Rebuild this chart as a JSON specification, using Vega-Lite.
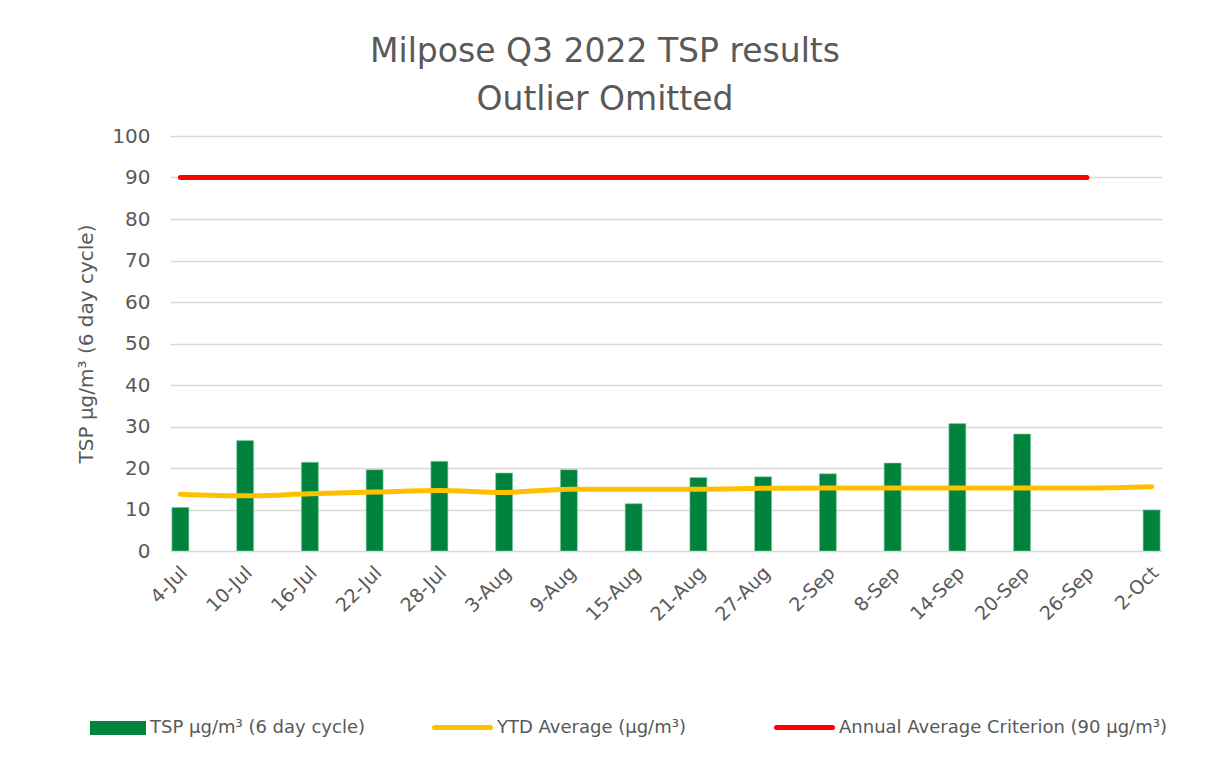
{
  "$schema": "https://vega.github.io/schema/vega-lite/v6.json",
  "width": 992,
  "height": 415,
  "autosize": {"type": "none"},
  "padding": {"left": 170, "top": 136, "right": 43, "bottom": 206},
  "background": "white",
  "title": {
    "text": ["Milpose Q3 2022 TSP results", "Outlier Omitted"],
    "fontSize": 33,
    "font": "DejaVu Sans",
    "fontWeight": "normal",
    "color": "#595959",
    "lineHeight": 48,
    "anchor": "middle",
    "dx": -61,
    "offset": 9
  },
  "config": {
    "view": {"stroke": null},
    "font": "DejaVu Sans",
    "axis": {"labelColor": "#595959", "titleColor": "#595959", "labelFont": "DejaVu Sans", "titleFont": "DejaVu Sans", "titleFontWeight": "normal"},
    "legend": {"labelColor": "#595959", "labelFont": "DejaVu Sans", "labelFontSize": 18, "labelOffset": 4, "labelLimit": 500}
  },
  "data": {
    "values": [
      {"date": "2022-07-04T12:00:00Z", "tsp": 10.5, "ytd": 13.7, "crit": 90},
      {"date": "2022-07-10T12:00:00Z", "tsp": 26.6, "ytd": 13.3, "crit": 90},
      {"date": "2022-07-16T12:00:00Z", "tsp": 21.4, "ytd": 13.8, "crit": 90},
      {"date": "2022-07-22T12:00:00Z", "tsp": 19.6, "ytd": 14.2, "crit": 90},
      {"date": "2022-07-28T12:00:00Z", "tsp": 21.6, "ytd": 14.6, "crit": 90},
      {"date": "2022-08-03T12:00:00Z", "tsp": 18.8, "ytd": 14.1, "crit": 90},
      {"date": "2022-08-09T12:00:00Z", "tsp": 19.6, "ytd": 14.9, "crit": 90},
      {"date": "2022-08-15T12:00:00Z", "tsp": 11.4, "ytd": 14.9, "crit": 90},
      {"date": "2022-08-21T12:00:00Z", "tsp": 17.7, "ytd": 14.9, "crit": 90},
      {"date": "2022-08-27T12:00:00Z", "tsp": 17.9, "ytd": 15.1, "crit": 90},
      {"date": "2022-09-02T12:00:00Z", "tsp": 18.6, "ytd": 15.2, "crit": 90},
      {"date": "2022-09-08T12:00:00Z", "tsp": 21.2, "ytd": 15.2, "crit": 90},
      {"date": "2022-09-14T12:00:00Z", "tsp": 30.7, "ytd": 15.2, "crit": 90},
      {"date": "2022-09-20T12:00:00Z", "tsp": 28.2, "ytd": 15.2, "crit": 90},
      {"date": "2022-09-26T12:00:00Z", "tsp": null, "ytd": 15.2, "crit": 90},
      {"date": "2022-10-02T12:00:00Z", "tsp": 9.9, "ytd": 15.5, "crit": null}
    ]
  },
  "encoding": {
    "x": {
      "field": "date",
      "type": "temporal",
      "scale": {
        "type": "utc",
        "domain": [
          {"year": 2022, "month": 7, "date": 4, "utc": true},
          {"year": 2022, "month": 10, "date": 3, "utc": true}
        ]
      },
      "axis": {
        "title": null,
        "labelExpr": "utcFormat(datum.value, '%-d-%b')",
        "labelAngle": -45,
        "labelAlign": "right",
        "labelBaseline": "top",
        "labelFontSize": 19,
        "labelPadding": 12,
        "labelOffset": -3,
        "ticks": false,
        "domain": false,
        "grid": false,
        "labelOverlap": false,
        "labelBound": false,
        "labelFlush": false,
        "values": [
          {"year": 2022, "month": 7, "date": 4, "hours": 12, "utc": true},
          {"year": 2022, "month": 7, "date": 10, "hours": 12, "utc": true},
          {"year": 2022, "month": 7, "date": 16, "hours": 12, "utc": true},
          {"year": 2022, "month": 7, "date": 22, "hours": 12, "utc": true},
          {"year": 2022, "month": 7, "date": 28, "hours": 12, "utc": true},
          {"year": 2022, "month": 8, "date": 3, "hours": 12, "utc": true},
          {"year": 2022, "month": 8, "date": 9, "hours": 12, "utc": true},
          {"year": 2022, "month": 8, "date": 15, "hours": 12, "utc": true},
          {"year": 2022, "month": 8, "date": 21, "hours": 12, "utc": true},
          {"year": 2022, "month": 8, "date": 27, "hours": 12, "utc": true},
          {"year": 2022, "month": 9, "date": 2, "hours": 12, "utc": true},
          {"year": 2022, "month": 9, "date": 8, "hours": 12, "utc": true},
          {"year": 2022, "month": 9, "date": 14, "hours": 12, "utc": true},
          {"year": 2022, "month": 9, "date": 20, "hours": 12, "utc": true},
          {"year": 2022, "month": 9, "date": 26, "hours": 12, "utc": true},
          {"year": 2022, "month": 10, "date": 2, "hours": 12, "utc": true}
        ]
      }
    }
  },
  "layer": [
    {
      "mark": {"type": "bar", "size": 17, "clip": true, "stroke": "#8CCFA8", "strokeWidth": 0.6},
      "encoding": {
        "y": {
          "field": "tsp",
          "type": "quantitative",
          "scale": {"domain": [0, 100], "nice": false},
          "axis": {
            "title": "TSP µg/m³ (6 day cycle)",
            "titleFontSize": 20,
            "titlePadding": 15,
            "labelFontSize": 20,
            "labelPadding": 20,
            "values": [0, 10, 20, 30, 40, 50, 60, 70, 80, 90, 100],
            "ticks": false,
            "domain": false,
            "grid": true,
            "gridColor": "#D9D9D9",
            "gridWidth": 1.5
          }
        },
        "fill": {
          "datum": "TSP µg/m³ (6 day cycle)",
          "scale": {"range": ["#00843D"]},
          "legend": {
            "title": null,
            "orient": "none",
            "legendX": -80,
            "legendY": 564,
            "symbolType": "M-1,-0.25H1V0.25H-1Z",
            "symbolSize": 3136,
            "symbolStrokeWidth": 0
          }
        }
      }
    },
    {
      "mark": {"type": "line", "strokeWidth": 5, "strokeCap": "round", "interpolate": "monotone"},
      "encoding": {
        "y": {"field": "ytd", "type": "quantitative"},
        "stroke": {
          "datum": "YTD  Average (µg/m³)",
          "scale": {"range": ["#FFC000"]},
          "legend": {
            "title": null,
            "orient": "none",
            "legendX": 262,
            "legendY": 561,
            "symbolType": "stroke",
            "symbolSize": 3136,
            "symbolStrokeWidth": 5,
            "encode": {"symbols": {"update": {"strokeCap": {"value": "round"}}}}
          }
        }
      }
    },
    {
      "mark": {"type": "line", "strokeWidth": 5, "strokeCap": "round"},
      "encoding": {
        "y": {"field": "crit", "type": "quantitative"},
        "color": {
          "datum": "Annual Average Criterion (90 µg/m³)",
          "scale": {"range": ["#FF0000"]},
          "legend": {
            "title": null,
            "orient": "none",
            "legendX": 604,
            "legendY": 561,
            "symbolType": "stroke",
            "symbolSize": 3136,
            "symbolStrokeWidth": 5,
            "encode": {"symbols": {"update": {"strokeCap": {"value": "round"}}}}
          }
        }
      }
    }
  ]
}
